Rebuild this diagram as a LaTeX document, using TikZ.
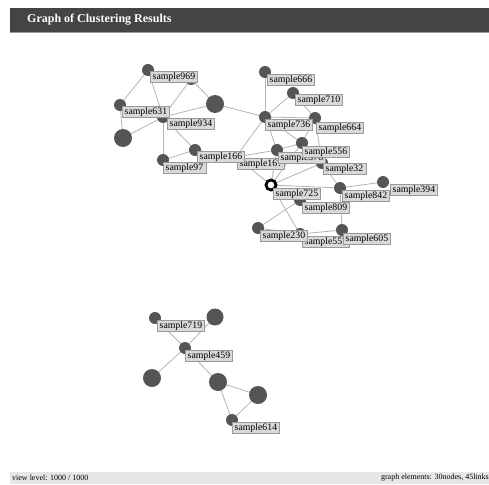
\documentclass[tikz,border=0pt]{standalone}
\usepackage{fontspec}
\setmainfont{Liberation Serif}
\usetikzlibrary{backgrounds}
\definecolor{nodegray}{HTML}{555555}
\definecolor{edgegray}{HTML}{B4B4B4}
\definecolor{labelfill}{HTML}{D9D9D9}
\definecolor{labelline}{HTML}{999999}
\definecolor{barbg}{HTML}{444444}
\definecolor{barline}{HTML}{9A9A9A}
\definecolor{statusbg}{HTML}{E6E6E6}
\begin{document}
\begin{tikzpicture}[x=1pt,y=-1pt,
  vtx/.style={circle,fill=nodegray,inner sep=0pt,minimum size=12pt},
  bigvtx/.style={circle,fill=nodegray,inner sep=0pt,minimum size=18pt},
  selvtx/.style={circle,draw=black,line width=2.8pt,fill=white,inner sep=0pt,minimum size=10pt},
  lab/.style={draw=labelline,fill=labelfill,anchor=north west,inner xsep=2.5pt,inner ysep=1pt,
    text height=7pt,text depth=2pt,font=\fontsize{9.8}{10}\selectfont},
  link/.style={draw=edgegray,line width=0.8pt}]
\useasboundingbox (0,0) rectangle (489,484);
% title bar
\fill[barbg] (10,8) rectangle (489,32);
\draw[barline,line width=1.5pt] (10,32.5) -- (489,32.5);
\node[anchor=west,text=white,font=\bfseries\fontsize{12}{14}\selectfont,inner sep=0pt] (title) at (27,20) {Graph of Clustering Results};
% status bar
\fill[statusbg] (10,472) rectangle (489,484);
\node[anchor=west,font=\fontsize{8}{9}\selectfont,inner sep=0pt] (viewlvl) at (12,478) {view level: 1000 / 1000};
\node[anchor=east,font=\fontsize{8}{9}\selectfont,inner sep=0pt] (elems) at (489,478) {graph elements: 30nodes, 45links};

% ---------- cluster 1 nodes ----------
\node[vtx] (n190) at (191,79) {};
\node[vtx] (n969) at (148,70) {};
\node[vtx] (n631) at (120,105) {};
\node[bigvtx] (b215) at (215,104) {};
\node[bigvtx] (b123) at (123,138) {};
\node[vtx] (n934) at (163,117) {};
\node[vtx] (n16) at (236,157) {};
\node[vtx] (n166) at (195,150) {};
\node[vtx] (n97) at (163,160) {};
\node[vtx] (n666) at (265,72) {};
\node[vtx] (n710) at (293,93) {};
\node[vtx] (n664) at (315,118) {};
\node[vtx] (n736) at (265,117) {};
\node[vtx] (n378) at (277,150) {};
\node[vtx] (n556) at (302,143) {};
\node[vtx] (n32) at (322,163) {};
\node[selvtx] (n725) at (271,185) {};
\node[vtx] (n842) at (340,188) {};
\node[vtx] (n394) at (383,182) {};
\node[vtx] (n809) at (300,200) {};
\node[vtx] (n55) at (300,234) {};
\node[vtx] (n230) at (258,228) {};
\node[vtx] (n605) at (342,230) {};
% ---------- cluster 2 nodes ----------
\node[vtx] (n719) at (155,318) {};
\node[bigvtx,minimum size=17pt] (bA) at (215,317) {};
\node[vtx] (n459) at (185,348) {};
\node[bigvtx] (bB) at (152,378) {};
\node[bigvtx] (bC) at (218,382) {};
\node[bigvtx] (bD) at (258,395) {};
\node[vtx] (n614) at (232,420) {};

% ---------- links ----------
\begin{pgfonlayer}{background}
\fill[white] (0,0) rectangle (489,484);
\foreach \a/\b in {n969/n934, n190/n934, n190/b215, n631/b123, n934/b123, n631/n934,
  n934/n97, n934/n166, n97/n166, n934/b215, b215/n736, n666/n736, n710/n736,
  n736/n664, n736/n378, n736/n556, n736/n16, n664/n556, n166/n16, n16/n725,
  n378/n725, n556/n725, n378/n556, n32/n842, n725/n842, n842/n394, n725/n809,
  n809/n230, n725/n55, n842/n605, n230/n55, n55/n605, n16/n378, n556/n32,
  n725/n32, n969/n631, n710/n664, n664/n32,
  n719/n459, bA/n459, n459/bB, n459/bC, bC/bD, bC/n614, bD/n614}
  \draw[link] (\a.center) -- (\b.center);
\end{pgfonlayer}

% ---------- labels ----------
\node[lab] (l969) at (150,71) {sample969};
\node[lab] (l631) at (122,106) {sample631};
\node[lab] (l934) at (167,118) {sample934};
\node[lab] (l16) at (237,158) {sample16?};
\node[lab] (l166) at (197,151) {sample166};
\node[lab] (l97) at (163,162) {sample97};
\node[lab] (l666) at (267,74) {sample666};
\node[lab] (l710) at (295,94) {sample710};
\node[lab] (l736) at (265,119) {sample736};
\node[lab] (l664) at (316,122) {sample664};
\node[lab] (l378) at (278,152) {sample378};
\node[lab] (l556) at (302,146) {sample556};
\node[lab] (l32) at (323,163) {sample32};
\node[lab] (l725) at (273,188) {sample725};
\node[lab] (l394) at (390,184) {sample394};
\node[lab] (l842) at (342,190) {sample842};
\node[lab] (l809) at (302,202) {sample809};
\node[lab] (l55) at (302,236) {sample55?};
\node[lab] (l230) at (260,230) {sample230};
\node[lab] (l605) at (343,233) {sample605};
\node[lab] (l719) at (157,320) {sample719};
\node[lab] (l459) at (185,350) {sample459};
\node[lab] (l614) at (232,422) {sample614};
\end{tikzpicture}
\end{document}
